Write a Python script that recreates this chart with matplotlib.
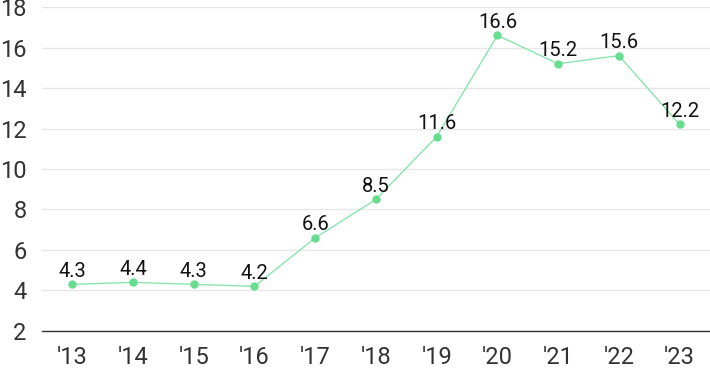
import matplotlib.pyplot as plt

years = ["'13", "'14", "'15", "'16", "'17", "'18", "'19", "'20", "'21", "'22", "'23"]
values = [4.3, 4.4, 4.3, 4.2, 6.6, 8.5, 11.6, 16.6, 15.2, 15.6, 12.2]
yticks = [2, 4, 6, 8, 10, 12, 14, 16, 18]

plt.rcParams['font.family'] = ['Roboto', 'DejaVu Sans']

fig = plt.figure(figsize=(7.1, 3.71), dpi=100)
ax = fig.add_axes([0.059, 0.108, 0.941, 0.873])

x = list(range(len(years)))
ax.plot(x, values, color='#7fe3a6', linewidth=0.9, zorder=2)
ax.scatter(x, values, s=36, color='#66dd8f', zorder=3, linewidths=0)

for xi, v in zip(x, values):
    ax.annotate(f"{v}", (xi, v), xytext=(0, 5.5), textcoords='offset points',
                ha='center', va='baseline', fontsize=14.5, color='#111111')

ax.set_xlim(-0.5, 10.5)
ax.set_ylim(2, 18)
ax.set_yticks(yticks)
ax.set_xticks(x)
ax.set_xticklabels(years)
ax.grid(axis='y', color='#e6e6e6', linewidth=1)
ax.set_axisbelow(True)
for s in ['top', 'right', 'left']:
    ax.spines[s].set_visible(False)
ax.spines['bottom'].set_color('#333333')
ax.spines['bottom'].set_linewidth(1)
ax.tick_params(axis='both', length=0, labelsize=17, colors='#333333')
ax.tick_params(axis='y', pad=11)
ax.tick_params(axis='x', pad=11)

fig.savefig('out.png', dpi=100)
